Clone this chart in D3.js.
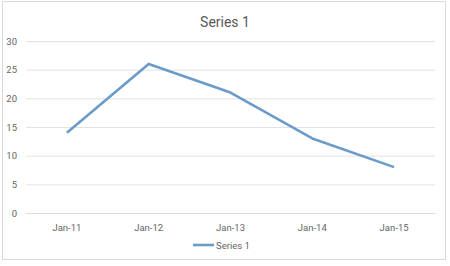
<!DOCTYPE html>
<html lang="en">
  <head>
    <meta charset="UTF-8" />
    <title>Series 1</title>
    <script src="https://d3js.org/d3.v7.min.js"></script>
    <style>
      body { margin: 0; background: #fff; }
      text { font-family: Roboto, "Open Sans", sans-serif; }
    </style>
  </head>
  <body>
    <svg width="450" height="266"></svg>

    <script>
      // chart data
      const categories = ["Jan-11", "Jan-12", "Jan-13", "Jan-14", "Jan-15"];
      const series1 = [14, 26, 21, 13, 8];
      const yTicks = [0, 5, 10, 15, 20, 25, 30];
      const seriesName = "Series 1";

      const svg = d3.select("svg");
      const plot = { left: 26, right: 435, top: 41, bottom: 213 };
      const lineColor = "#6a9bc9";
      const textColor = "#666";

      // outer chart border
      svg.append("rect")
        .attr("x", 2.5).attr("y", 1.5)
        .attr("width", 443).attr("height", 258)
        .attr("fill", "#fff")
        .attr("stroke", "#d9d9d9");

      const x = d3.scaleBand().domain(categories).range([plot.left, plot.right]);
      const y = d3.scaleLinear().domain([0, 30]).range([plot.bottom, plot.top]);

      // gridlines + y labels
      const yAxis = d3.axisLeft(y).tickValues(yTicks)
        .tickSize(-(plot.right - plot.left)).tickPadding(9);
      const gy = svg.append("g")
        .attr("transform", `translate(${plot.left},0)`)
        .call(yAxis);
      gy.select(".domain").remove();
      gy.selectAll(".tick line").attr("stroke", "#e3e3e3");
      gy.selectAll(".tick text")
        .attr("fill", textColor).style("font-size", "9.5px");

      // x labels
      const xAxis = d3.axisBottom(x).tickSize(0).tickPadding(11);
      const gx = svg.append("g")
        .attr("transform", `translate(0,${plot.bottom})`)
        .call(xAxis);
      gx.select(".domain").attr("stroke", "#dcdcdc");
      gx.selectAll(".tick text")
        .attr("fill", textColor).style("font-size", "9.5px");

      // the line
      const line = d3.line()
        .x((d, i) => x(categories[i]) + x.bandwidth() / 2)
        .y(d => y(d));
      svg.append("path")
        .datum(series1)
        .attr("d", line)
        .attr("fill", "none")
        .attr("stroke", lineColor)
        .attr("stroke-width", 2.6)
        .attr("stroke-linejoin", "round");

      // title
      svg.append("text")
        .attr("x", 225).attr("y", 27)
        .attr("text-anchor", "middle")
        .attr("fill", "#595959")
        .style("font-size", "14px")
        .text(seriesName);

      // legend
      const lg = svg.append("g").attr("transform", "translate(193,245)");
      lg.append("line")
        .attr("x1", 0).attr("x2", 21)
        .attr("stroke", lineColor).attr("stroke-width", 2.6);
      lg.append("text")
        .attr("x", 23).attr("y", 3.5)
        .attr("fill", textColor)
        .style("font-size", "9.5px")
        .text(seriesName);
    </script>
  </body>
</html>
